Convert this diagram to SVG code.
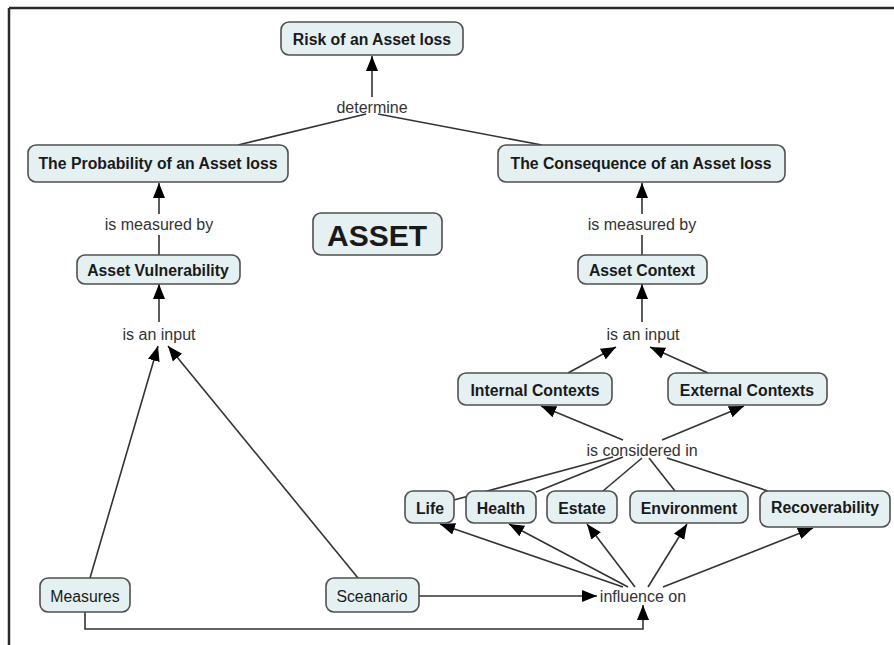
<svg xmlns="http://www.w3.org/2000/svg" width="894" height="645" viewBox="0 0 894 645">
<defs>
<style>
.node rect{fill:#e4f0f2;stroke:#505050;stroke-width:1.6}
.node text{font-family:"Liberation Sans",Arial,sans-serif;font-size:15.8px;fill:#1a1a1a;text-anchor:middle;dominant-baseline:central}
.b text{font-weight:bold}
.lbl{font-family:"Liberation Sans",Arial,sans-serif;font-size:16px;fill:#333;text-anchor:middle;dominant-baseline:central}
.c line,.c polyline{stroke:#333;stroke-width:1.6;fill:none}
.a{marker-end:url(#arr)}
</style>
<marker id="arr" markerUnits="userSpaceOnUse" markerWidth="16" markerHeight="16" viewBox="0 0 16 16" refX="15" refY="8" orient="auto">
<path d="M0,2 L15,8 L0,14 Z" fill="#000"/>
</marker>
</defs>
<rect width="894" height="645" fill="#fff"/>
<g id="frame" stroke="#2a2a2a" stroke-width="2.5">
<line x1="9" y1="8" x2="894" y2="8"/>
<line x1="9" y1="8" x2="9" y2="645"/>
</g>
<g id="connectors" class="c">
<line class="a" x1="372" y1="97" x2="372" y2="56"/>
<line x1="366" y1="114" x2="238" y2="145"/>
<line x1="378" y1="114" x2="542" y2="145"/>
<line class="a" x1="159" y1="214" x2="159" y2="183"/>
<line x1="159" y1="235" x2="159" y2="255"/>
<line class="a" x1="159" y1="322" x2="159" y2="284"/>
<line class="a" x1="642" y1="214" x2="642" y2="183"/>
<line x1="642" y1="235" x2="642" y2="255"/>
<line class="a" x1="642" y1="322" x2="642" y2="284"/>
<line class="a" x1="568" y1="373" x2="616" y2="347"/>
<line class="a" x1="708" y1="373" x2="650" y2="347"/>
<line class="a" x1="623" y1="440" x2="541" y2="406"/>
<line class="a" x1="662" y1="440" x2="744" y2="406"/>
<line x1="613" y1="457" x2="454" y2="500"/>
<line x1="623" y1="457" x2="536" y2="492"/>
<line x1="642" y1="458" x2="603" y2="491"/>
<line x1="649" y1="458" x2="675" y2="491"/>
<line x1="667" y1="458" x2="768" y2="491"/>
<line class="a" x1="623" y1="587" x2="440" y2="524"/>
<line class="a" x1="628" y1="587" x2="509" y2="524"/>
<line class="a" x1="635" y1="587" x2="587" y2="524"/>
<line class="a" x1="648" y1="587" x2="687" y2="524"/>
<line class="a" x1="663" y1="587" x2="813" y2="528"/>
<line class="a" x1="90" y1="578" x2="158" y2="346"/>
<line class="a" x1="358" y1="578" x2="168" y2="346"/>
<line class="a" x1="419" y1="596" x2="597" y2="596"/>
<polyline class="a" points="85,612 85,629 643,629 643,605"/>
</g>
<g id="labels">
<text class="lbl" x="372" y="107">determine</text>
<text class="lbl" x="159" y="224">is measured by</text>
<text class="lbl" x="159" y="334">is an input</text>
<text class="lbl" x="642" y="224">is measured by</text>
<text class="lbl" x="643" y="334">is an input</text>
<text class="lbl" x="642" y="450">is considered in</text>
<text class="lbl" x="643" y="596">influence on</text>
</g>
<g id="risk" class="node b"><rect x="281" y="22" width="182" height="33" rx="8"/><text x="372" y="39">Risk of an Asset loss</text></g>
<g id="probability" class="node b"><rect x="28" y="145" width="260" height="37" rx="8"/><text x="158" y="163">The Probability of an Asset loss</text></g>
<g id="consequence" class="node b"><rect x="498" y="145" width="287" height="37" rx="8"/><text x="641" y="163">The Consequence of an Asset loss</text></g>
<g id="asset" class="node b"><rect x="313" y="213" width="129" height="42" rx="8"/><text x="377" y="235" style="font-size:30px">ASSET</text></g>
<g id="vulnerability" class="node b"><rect x="77" y="255" width="163" height="29" rx="8"/><text x="158" y="270">Asset Vulnerability</text></g>
<g id="context" class="node b"><rect x="578" y="255" width="129" height="29" rx="8"/><text x="642" y="270">Asset Context</text></g>
<g id="internal" class="node b"><rect x="458" y="373" width="154" height="32" rx="8"/><text x="535" y="390">Internal Contexts</text></g>
<g id="external" class="node b"><rect x="668" y="373" width="159" height="32" rx="8"/><text x="747" y="390">External Contexts</text></g>
<g id="life" class="node b"><rect x="405" y="491" width="49" height="32" rx="8"/><text x="430" y="508">Life</text></g>
<g id="health" class="node b"><rect x="466" y="491" width="70" height="32" rx="8"/><text x="501" y="508">Health</text></g>
<g id="estate" class="node b"><rect x="547" y="491" width="70" height="32" rx="8"/><text x="582" y="508">Estate</text></g>
<g id="environment" class="node b"><rect x="630" y="491" width="118" height="32" rx="8"/><text x="689" y="508">Environment</text></g>
<g id="recoverability" class="node b"><rect x="760" y="491" width="130" height="36" rx="8"/><text x="825" y="507">Recoverability</text></g>
<g id="measures" class="node"><rect x="40" y="578" width="90" height="34" rx="8"/><text x="85" y="596">Measures</text></g>
<g id="sceanario" class="node"><rect x="326" y="578" width="93" height="34" rx="8"/><text x="372" y="596">Sceanario</text></g>
</svg>
